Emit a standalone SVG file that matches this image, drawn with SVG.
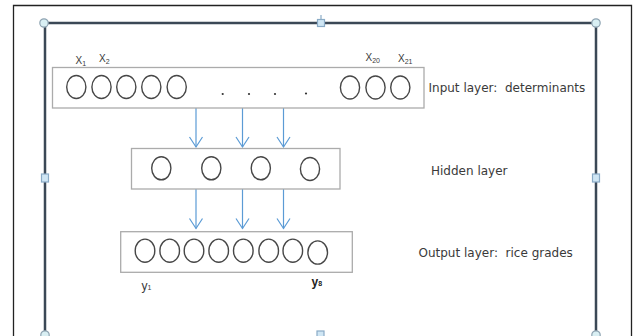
<svg xmlns="http://www.w3.org/2000/svg" width="634" height="336" viewBox="0 0 634 336" xml:space="preserve">
  <style>
    .layer { fill: #ffffff; stroke: #ababab; stroke-width: 1.3; }
    .neuron { fill: none; stroke: #474747; stroke-width: 1.4; }
    .lbl { font-family: "DejaVu Sans", "Liberation Sans", sans-serif; font-size: 12px; fill: #3a3a3a; white-space: pre; }
    .var { font-family: "Liberation Sans", Arial, sans-serif; font-size: 10px; fill: #3a3a3a; }
    .sub { font-size: 7px; }
    .conn { stroke: #5b9bd5; stroke-width: 1.2; fill: none; marker-end: url(#arr); }
    .frame { stroke: #3b4856; stroke-width: 2.5; fill: none; }
    .hc { fill: #d9eff3; stroke: #8ea3b1; stroke-width: 1.2; }
    .hs { fill: #cfe6f4; stroke: #8aabc6; stroke-width: 1.2; }
    .dot { fill: #333333; }
  </style>
  <defs>
    <marker id="arr" markerUnits="userSpaceOnUse" markerWidth="14" markerHeight="16" viewBox="-11 -8 12 16" refX="0" refY="0" orient="auto">
      <path d="M-10,-6.5 L0,0 L-10,6.5" fill="none" stroke="#5b9bd5" stroke-width="1.2"/>
    </marker>
  </defs>
  <rect width="634" height="336" fill="#ffffff"/>

  <!-- outer page border -->
  <g id="page">
    <path d="M13.5,336 V5.5 H631.5 V336" fill="none" stroke="#222222" stroke-width="1.3"/>
  </g>

  <!-- selection frame with handles -->
  <g id="frame">
    <path class="frame" d="M45,331 V23 H596 V331"/>
    <line x1="321" y1="15" x2="321" y2="20" stroke="#8aabc6" stroke-width="1.2"/>
    <rect class="hs" x="317.5" y="19.5" width="7" height="7"/>
    <rect class="hs" x="41.5" y="174" width="7" height="8"/>
    <rect class="hs" x="592.5" y="174" width="7" height="8"/>
    <circle class="hc" cx="44" cy="23" r="4.2"/>
    <circle class="hc" cx="596" cy="23" r="4.2"/>
    <circle class="hc" cx="45" cy="335" r="4.2"/>
    <circle class="hc" cx="596" cy="335" r="4.2"/>
    <rect class="hs" x="317" y="331" width="7" height="7"/>
  </g>

  <!-- connectors -->
  <g id="connectors">
    <path class="conn" d="M196,108 V147"/>
    <path class="conn" d="M242.5,108 V147"/>
    <path class="conn" d="M283.5,108 V147"/>
    <path class="conn" d="M196,189 V228.5"/>
    <path class="conn" d="M242.5,189 V228.5"/>
    <path class="conn" d="M283.5,189 V228.5"/>
  </g>

  <!-- input layer -->
  <g id="input-layer">
    <rect class="layer" x="52.5" y="67.5" width="371.5" height="40.5"/>
    <ellipse class="neuron" cx="76.3" cy="87" rx="9.6" ry="11.5"/>
    <ellipse class="neuron" cx="101.5" cy="87" rx="9.6" ry="11.5"/>
    <ellipse class="neuron" cx="126.3" cy="87" rx="9.6" ry="11.5"/>
    <ellipse class="neuron" cx="151.3" cy="87" rx="9.6" ry="11.5"/>
    <ellipse class="neuron" cx="176.7" cy="87" rx="9.6" ry="11.5"/>
    <circle class="dot" cx="222.7" cy="94" r="1.1"/>
    <circle class="dot" cx="249" cy="94" r="1.1"/>
    <circle class="dot" cx="275" cy="94" r="1.1"/>
    <circle class="dot" cx="306" cy="93.5" r="1.1"/>
    <ellipse class="neuron" cx="350" cy="87.5" rx="9.6" ry="11.5"/>
    <ellipse class="neuron" cx="375.5" cy="87.5" rx="9.6" ry="11.5"/>
    <ellipse class="neuron" cx="400.3" cy="87.5" rx="9.6" ry="11.5"/>
    <text class="var" x="75.5" y="64">X<tspan class="sub" dy="1.5">1</tspan></text>
    <text class="var" x="99" y="62">X<tspan class="sub" dy="1.5">2</tspan></text>
    <text class="var" x="365.5" y="61">X<tspan class="sub" dy="1.5">20</tspan></text>
    <text class="var" x="398" y="62">X<tspan class="sub" dy="1.5">21</tspan></text>
    <text class="lbl" x="428.5" y="92">Input layer:  determinants</text>
  </g>

  <!-- hidden layer -->
  <g id="hidden-layer">
    <rect class="layer" x="131.5" y="148.5" width="208.5" height="40.5"/>
    <ellipse class="neuron" cx="161.3" cy="168.3" rx="9.6" ry="11.5"/>
    <ellipse class="neuron" cx="211.3" cy="168.3" rx="9.6" ry="11.5"/>
    <ellipse class="neuron" cx="260.8" cy="168.3" rx="9.6" ry="11.5"/>
    <ellipse class="neuron" cx="310" cy="169" rx="9.6" ry="11.5"/>
    <text class="lbl" x="431" y="174.5">Hidden layer</text>
  </g>

  <!-- output layer -->
  <g id="output-layer">
    <rect class="layer" x="120.7" y="231.7" width="231.6" height="40.6"/>
    <ellipse class="neuron" cx="145" cy="250.7" rx="9.8" ry="11.6"/>
    <ellipse class="neuron" cx="169.7" cy="250.7" rx="9.8" ry="11.6"/>
    <ellipse class="neuron" cx="194" cy="250.7" rx="9.8" ry="11.6"/>
    <ellipse class="neuron" cx="218.7" cy="250.7" rx="9.8" ry="11.6"/>
    <ellipse class="neuron" cx="243.3" cy="250.7" rx="9.8" ry="11.6"/>
    <ellipse class="neuron" cx="268.7" cy="250.7" rx="9.8" ry="11.6"/>
    <ellipse class="neuron" cx="292.8" cy="250.7" rx="9.8" ry="11.6"/>
    <ellipse class="neuron" cx="317.7" cy="252.5" rx="9.8" ry="11.6"/>
    <text class="var" x="141.5" y="290" style="font-size:12px">y<tspan class="sub" dy="-0.5">1</tspan></text>
    <text class="var" x="311.5" y="286" style="font-size:12px;font-weight:bold;fill:#222">y<tspan class="sub" dy="-0.5">8</tspan></text>
    <text class="lbl" x="418.5" y="256.5">Output layer:  rice grades</text>
  </g>
</svg>
